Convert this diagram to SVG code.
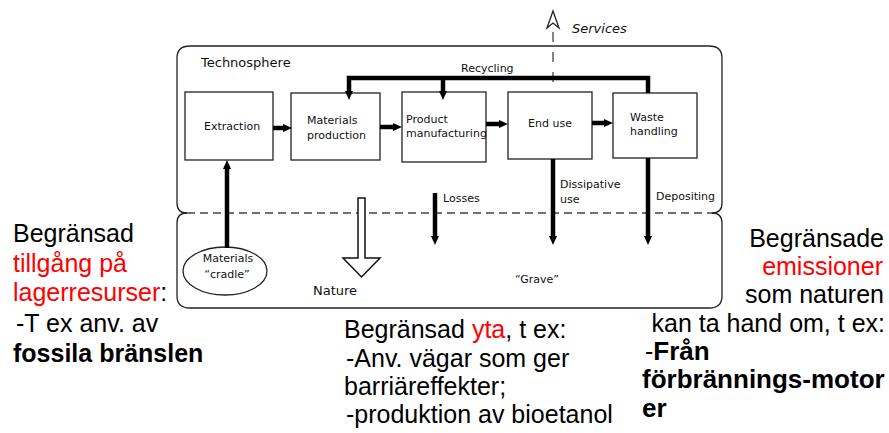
<svg xmlns="http://www.w3.org/2000/svg" width="889" height="433" viewBox="0 0 889 433">
<defs>
<style>
.box{fill:#fff;stroke:#222;stroke-width:1.3}
.lbl{font-family:"DejaVu Sans",Verdana,sans-serif;font-size:11px;fill:#111}
.big{font-family:"Liberation Sans",Arial,sans-serif;font-size:25px;fill:#000}
.red{fill:#ff0000}
.b{font-weight:bold}
.thick{fill:none;stroke:#000;stroke-width:4.5}
.dash{fill:none;stroke:#444;stroke-width:1.3}
</style>
<marker id="ah" viewBox="0 0 10 10" markerUnits="userSpaceOnUse" markerWidth="10" markerHeight="10" refX="2" refY="5" orient="auto">
<path d="M0,1 L9,5 L0,9 z" fill="#000"/>
</marker>
</defs>
<rect width="889" height="433" fill="#fff"/>

<g id="technosphere">
<path d="M187,213 Q177,213 177,203 L177,58 Q177,46 190,46 L709,46 Q722,46 722,58 L722,203 Q722,213 712,213" fill="none" stroke="#222" stroke-width="1.3"/>
<text class="lbl" x="201" y="67" style="font-size:13px">Technosphere</text>
</g>
<g id="nature">
<path d="M187,213 Q177,213 177,223 L177,296 Q177,308 190,308 L709,308 Q722,308 722,296 L722,223 Q722,213 712,213" fill="none" stroke="#222" stroke-width="1.3"/>
<line x1="187" y1="213" x2="712" y2="213" class="dash" stroke-dasharray="8,5"/>
<text class="lbl" x="313" y="295" style="font-size:13px">Nature</text>
<text class="lbl" x="537" y="283" text-anchor="middle">“Grave”</text>
</g>

<g id="extraction">
<rect class="box" x="185" y="92" width="88" height="68"/>
<text class="lbl" x="204" y="130">Extraction</text>
</g>
<g id="materials-production">
<rect class="box" x="291" y="93" width="89" height="67"/>
<text class="lbl" x="307" y="124">Materials</text>
<text class="lbl" x="307" y="139">production</text>
</g>
<g id="product-manufacturing">
<rect class="box" x="402" y="92" width="84" height="70"/>
<text class="lbl" x="406" y="123">Product</text>
<text class="lbl" x="406" y="137">manufacturing</text>
</g>
<g id="end-use">
<rect class="box" x="508" y="92" width="84" height="67"/>
<text class="lbl" x="550" y="127" text-anchor="middle">End use</text>
</g>
<g id="waste-handling">
<rect class="box" x="613" y="93" width="84" height="65"/>
<text class="lbl" x="630" y="121">Waste</text>
<text class="lbl" x="630" y="135">handling</text>
</g>
<g id="materials-cradle">
<ellipse cx="225" cy="271" rx="42" ry="24" fill="#fff" stroke="#222" stroke-width="1.3"/>
<text class="lbl" x="228" y="262" text-anchor="middle">Materials</text>
<text class="lbl" x="227" y="278" text-anchor="middle">“cradle”</text>
</g>
<g id="services">
<path d="M547,28 L553,11 L559,28 L553,23 Z" fill="#fff" stroke="#222" stroke-width="1.3"/>
<text class="lbl" x="572" y="33" style="font-size:13px;font-style:italic">Services</text>
</g>

<g id="connectors">
<line x1="553" y1="32" x2="553" y2="92" class="dash" stroke-dasharray="10,10"/>
<line x1="227" y1="248" x2="227" y2="167" class="thick" marker-end="url(#ah)"/>
<line x1="273" y1="128" x2="285" y2="128" class="thick" marker-end="url(#ah)"/>
<line x1="380" y1="127" x2="395" y2="127" class="thick" marker-end="url(#ah)"/>
<line x1="486" y1="124" x2="501" y2="124" class="thick" marker-end="url(#ah)"/>
<line x1="592" y1="123" x2="606" y2="123" class="thick" marker-end="url(#ah)"/>
<path d="M648,93 L648,78 L349,78 L349,93" class="thick" marker-end="url(#ah)"/>
<line x1="443" y1="78" x2="443" y2="93" class="thick" marker-end="url(#ah)"/>
<line x1="435" y1="193" x2="435" y2="238" class="thick" marker-end="url(#ah)"/>
<line x1="553" y1="159" x2="553" y2="238" class="thick" marker-end="url(#ah)"/>
<line x1="648" y1="158" x2="648" y2="238" class="thick" marker-end="url(#ah)"/>
<polygon points="358,198 365,198 365,258 380,258 361.5,277 343,258 358,258" fill="#fff" stroke="#111" stroke-width="1.5"/>
<text class="lbl" x="461" y="72">Recycling</text>
<text class="lbl" x="443" y="202">Losses</text>
<text class="lbl" x="560" y="188">Dissipative</text>
<text class="lbl" x="560" y="203">use</text>
<text class="lbl" x="656" y="200">Depositing</text>
</g>

<g id="left-text">
<text class="big" x="13" y="242">Begränsad</text>
<text class="big red" x="13" y="272">tillgång på</text>
<text class="big" x="13" y="301"><tspan class="red">lagerresurser</tspan>:</text>
<text class="big" x="16" y="332">-T ex anv. av</text>
<text class="big b" x="13" y="362">fossila bränslen</text>
</g>
<g id="middle-text">
<text class="big" x="344" y="338">Begränsad <tspan class="red">yta</tspan>, t ex:</text>
<text class="big" x="346" y="367">-Anv. vägar som ger</text>
<text class="big" x="344" y="395">barriäreffekter;</text>
<text class="big" x="346" y="423">-produktion av bioetanol</text>
</g>
<g id="right-text">
<text class="big" x="884" y="247" text-anchor="end">Begränsade</text>
<text class="big red" x="883" y="275" text-anchor="end">emissioner</text>
<text class="big" x="884" y="303" text-anchor="end">som naturen</text>
<text class="big" x="885" y="332" text-anchor="end">kan ta hand om, t ex:</text>
<text class="big" x="645" y="360">-<tspan class="b" style="font-size:26px">Från</tspan></text>
<text class="big b" x="642" y="388" style="font-size:26px">förbrännings-motor</text>
<text class="big b" x="642" y="417" style="font-size:26px">er</text>
</g>
</svg>
